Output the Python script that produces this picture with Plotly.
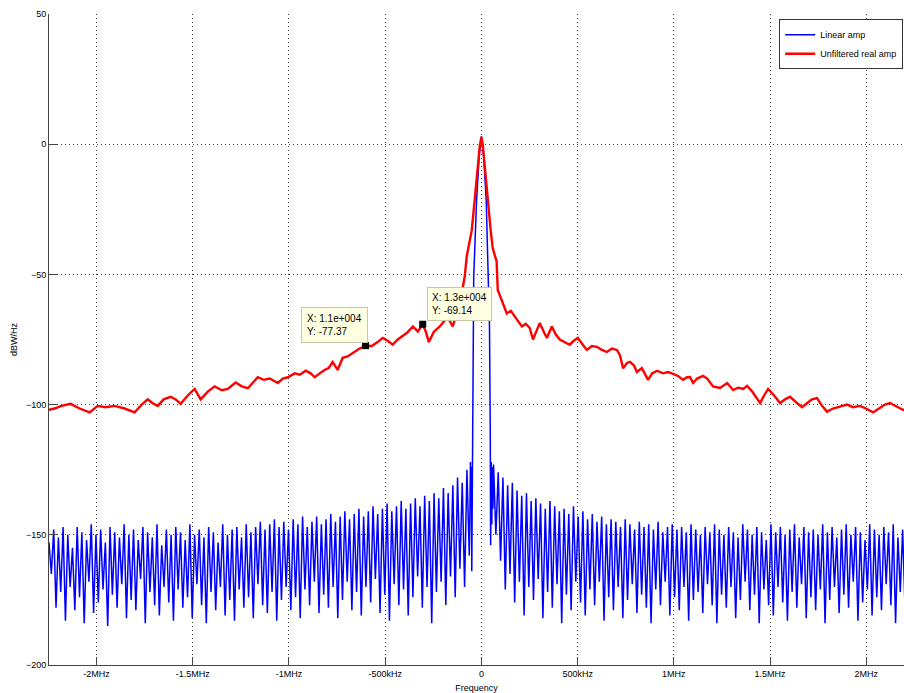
import numpy as np
import plotly.graph_objects as go

# ---------------- data ----------------
# Red trace: "Unfiltered real amp" (frequency in MHz, level in dBW/Hz)
red_freq_mhz = [
    -2.250, -2.218, -2.182, -2.135, -2.088, -2.036, -1.994, -1.953, -1.906, -1.854,
    -1.802, -1.765, -1.734, -1.708, -1.682, -1.651, -1.615, -1.589, -1.563, -1.526,
    -1.490, -1.459, -1.422, -1.386, -1.349, -1.318, -1.277, -1.245, -1.214, -1.183,
    -1.162, -1.131, -1.100, -1.058, -1.032, -1.006, -0.970, -0.944, -0.913, -0.887,
    -0.866, -0.840, -0.815, -0.794, -0.773, -0.747, -0.721, -0.695, -0.664, -0.633,
    -0.602, -0.570, -0.539, -0.513, -0.487, -0.461, -0.435, -0.414, -0.388, -0.356,
    -0.330, -0.305, -0.289, -0.273, -0.247, -0.216, -0.180, -0.164, -0.149, -0.128,
    -0.113, -0.097, -0.087, -0.076, -0.061, -0.050, -0.035, -0.019, -0.009, 0.000,
    0.007, 0.017, 0.033, 0.048, 0.059, 0.069, 0.079, 0.085, 0.106, 0.132,
    0.153, 0.173, 0.194, 0.210, 0.231, 0.251, 0.268, 0.289, 0.303, 0.324,
    0.340, 0.366, 0.386, 0.407, 0.433, 0.459, 0.480, 0.501, 0.527, 0.548,
    0.574, 0.600, 0.626, 0.652, 0.678, 0.704, 0.720, 0.736, 0.757, 0.772,
    0.793, 0.808, 0.834, 0.866, 0.887, 0.913, 0.944, 0.970, 0.996, 1.022,
    1.048, 1.068, 1.084, 1.100, 1.121, 1.136, 1.152, 1.173, 1.204, 1.240,
    1.277, 1.308, 1.334, 1.360, 1.381, 1.407, 1.428, 1.448, 1.469, 1.490,
    1.521, 1.552, 1.578, 1.604, 1.640, 1.666, 1.692, 1.718, 1.744, 1.770,
    1.796, 1.827, 1.863, 1.900, 1.931, 1.967, 1.998, 2.035, 2.066, 2.097,
    2.123, 2.154, 2.190, 2.250,
]
red_db = [
    -102.0, -101.5, -100.5, -99.7, -101.5, -103.0, -100.5, -101.0, -100.5, -101.5,
    -103.0, -100.0, -98.0, -99.5, -100.5, -98.0, -97.0, -98.0, -99.7, -96.5,
    -94.0, -98.0, -95.0, -93.0, -94.5, -94.0, -91.5, -93.0, -93.7, -91.0,
    -89.5, -90.5, -90.0, -91.7, -90.0, -89.5, -88.0, -88.5, -87.0, -88.0,
    -89.5, -88.0, -86.7, -86.0, -83.6, -86.7, -82.0, -81.5, -80.0, -78.5,
    -77.4, -77.5, -76.0, -74.4, -75.5, -77.0, -75.0, -74.0, -72.5, -70.0,
    -72.0, -69.1, -72.0, -76.0, -72.0, -70.0, -66.7, -68.0, -70.0, -65.0,
    -61.0, -55.0, -51.0, -43.0, -37.0, -33.0, -21.5, -8.0, -1.0, 2.8,
    0.0, -8.0, -21.5, -33.0, -40.0, -43.0, -45.0, -56.0, -60.0, -65.0,
    -64.0, -66.0, -68.0, -70.0, -69.0, -70.6, -75.0, -71.0, -68.7, -72.0,
    -74.4, -70.0, -73.0, -75.0, -76.0, -77.0, -75.5, -74.4, -77.0, -79.0,
    -77.5, -77.8, -79.0, -79.8, -78.5, -79.0, -81.0, -86.0, -84.0, -83.6,
    -85.0, -87.5, -86.0, -90.5, -88.0, -87.0, -88.0, -87.5, -88.2, -89.0,
    -90.5, -89.5, -89.4, -91.7, -90.0, -89.4, -89.0, -90.0, -93.0, -93.6,
    -91.7, -94.4, -93.5, -94.0, -92.8, -95.0, -97.5, -99.4, -96.5, -94.0,
    -96.5, -99.4, -98.0, -97.0, -99.4, -101.0, -99.5, -98.0, -97.5, -100.5,
    -102.7, -101.5, -100.8, -100.0, -101.0, -100.5, -101.5, -103.0, -101.5, -100.0,
    -99.4, -100.5, -102.0, -101.5,
]

# Blue trace: "Linear amp"
# left skirt, from the left edge towards the centre (alternating peak / dip)
blue_left_db = [
    -153, -165, -148, -178, -151, -172, -147, -183, -150, -170,
    -155, -179, -147, -174, -149, -184, -152, -168, -146, -180,
    -150, -176, -148, -171, -153, -185, -147, -173, -149, -178,
    -151, -169, -146, -182, -150, -175, -148, -179, -152, -167,
    -147, -184, -149, -172, -151, -177, -146, -181, -154, -170,
    -148, -176, -150, -183, -147, -171, -149, -178, -152, -174,
    -146, -182, -150, -169, -148, -177, -151, -184, -147, -172,
    -149, -179, -153, -170, -146, -181, -150, -175, -148, -183,
    -147, -171, -151, -178, -146, -174, -149, -182, -147, -169,
    -145, -177, -148, -180, -146, -172, -144, -183, -147, -175,
    -145, -170, -148, -179, -144, -174, -146, -182, -143, -171,
    -147, -177, -145, -168, -143, -180, -146, -173, -144, -178,
    -142, -170, -145, -182, -143, -175, -141, -168, -144, -179,
    -142, -172, -140, -181, -143, -170, -141, -176, -139, -167,
    -142, -180, -140, -173, -138, -183, -141, -169, -139, -177,
    -137, -171, -140, -181, -138, -174, -136, -166, -139, -178,
    -135, -170, -137, -184, -134, -172, -136, -168, -132, -177,
    -134, -166, -131, -174, -128, -163, -130, -170, -125, -158,
]
# central lobe
blue_center_freq_mhz = [
    -0.060, -0.057, -0.055, -0.052, -0.050, -0.047, -0.044, -0.040, -0.025, -0.012,
    0.000, 0.012, 0.025, 0.036, 0.042, 0.046, 0.048, 0.051, 0.054, 0.057, 0.060,
]
blue_center_db = [
    -144, -122, -140, -124, -164, -117, -70, -51, -21.5, -5,
    3, -5, -21.5, -51, -70, -110, -154, -122, -146, -124, -140,
]
# right skirt, from the centre towards the right edge
blue_right_db = [
    -123, -150, -126, -160, -128, -171, -131, -165, -130, -176,
    -133, -168, -135, -181, -134, -170, -137, -175, -136, -167,
    -138, -182, -140, -172, -137, -178, -139, -169, -141, -184,
    -140, -173, -142, -179, -139, -168, -143, -176, -141, -181,
    -144, -171, -142, -177, -145, -168, -143, -183, -146, -174,
    -144, -179, -145, -170, -147, -182, -144, -175, -146, -169,
    -148, -180, -145, -173, -147, -178, -146, -184, -148, -171,
    -145, -177, -149, -168, -147, -181, -146, -174, -148, -179,
    -147, -170, -149, -183, -146, -175, -148, -172, -150, -180,
    -147, -169, -149, -177, -146, -184, -148, -173, -150, -178,
    -147, -170, -149, -182, -151, -175, -146, -168, -148, -179,
    -150, -173, -147, -184, -149, -171, -152, -177, -146, -181,
    -149, -170, -147, -176, -150, -183, -148, -172, -146, -178,
    -151, -169, -147, -182, -149, -174, -148, -179, -150, -171,
    -146, -184, -149, -175, -147, -170, -151, -180, -148, -173,
    -146, -178, -150, -168, -147, -183, -149, -176, -152, -171,
    -146, -181, -148, -174, -150, -179, -147, -169, -149, -177,
    -146, -184, -151, -172, -148, -178, -150, -170, -147, -176,
]

# data tips
tip_freq_mhz = [-0.602, -0.305]
tip_db = [-77.37, -69.14]
tip_text = ["X: 1.1e+004<br>Y: -77.37", "X: 1.3e+004<br>Y: -69.14"]

tick_vals_mhz = [-2, -1.5, -1, -0.5, 0, 0.5, 1, 1.5, 2]
tick_text = ["-2MHz", "-1.5MHz", "-1MHz", "-500kHz", "0", "500kHz", "1MHz", "1.5MHz", "2MHz"]
y_ticks = [-200, -150, -100, -50, 0, 50]

# frequency grids for the skirts
blue_left_freq = np.linspace(-2.247, -0.063, len(blue_left_db))
blue_right_freq = np.linspace(0.063, 2.25, len(blue_right_db))
blue_freq = list(blue_left_freq) + blue_center_freq_mhz + list(blue_right_freq)
blue_db = blue_left_db + blue_center_db + blue_right_db

FONT = "Arial, Liberation Sans, sans-serif"

# ---------------- figure ----------------
fig = go.Figure()
fig.add_trace(go.Scatter(x=blue_freq, y=blue_db, mode="lines", name="Linear amp",
                         line=dict(color="#0000FF", width=1.5)))
fig.add_trace(go.Scatter(x=red_freq_mhz, y=red_db, mode="lines", name="Unfiltered real amp",
                         line=dict(color="#FF0000", width=2.4)))
fig.add_trace(go.Scatter(x=tip_freq_mhz, y=tip_db, mode="markers", showlegend=False,
                         marker=dict(symbol="square", size=7, color="black",
                                     line=dict(color="black", width=0))))

grid = dict(showgrid=True, gridcolor="rgba(0,0,0,0.75)", griddash="1px,3px", gridwidth=1,
            zeroline=False, showline=True, linecolor="#444", linewidth=1,
            ticks="inside", ticklen=8, tickcolor="#444",
            tickfont=dict(family=FONT, size=9, color="black"))

fig.update_xaxes(range=[-2.247, 2.196], tickvals=tick_vals_mhz, ticktext=tick_text,
                 title=dict(text="Frequency", standoff=6, font=dict(family=FONT, size=9)),
                 **grid)
fig.update_yaxes(range=[-200, 50], tickvals=y_ticks,
                 title=dict(text="dBW/Hz", standoff=6, font=dict(family=FONT, size=9)),
                 **grid)

annos = []
annos.append(dict(x=tip_freq_mhz[0], y=tip_db[0], xref="x", yref="y", text=tip_text[0],
                  showarrow=False, xanchor="right", yanchor="bottom", xshift=2, yshift=3,
                  align="left", bgcolor="#FFFFE1", bordercolor="#C8C8A8", borderwidth=1,
                  borderpad=5, font=dict(family=FONT, size=10)))
annos.append(dict(x=tip_freq_mhz[1], y=tip_db[1], xref="x", yref="y", text=tip_text[1],
                  showarrow=False, xanchor="left", yanchor="bottom", xshift=4, yshift=3,
                  align="left", bgcolor="#FFFFE1", bordercolor="#C8C8A8", borderwidth=1,
                  borderpad=4, font=dict(family=FONT, size=10)))

fig.update_layout(
    width=904, height=693,
    margin=dict(l=49, r=0, t=14, b=28),
    plot_bgcolor="white", paper_bgcolor="white",
    font=dict(family=FONT, size=9, color="black"),
    legend=dict(x=0.854, xanchor="left", y=0.992, yanchor="top", bgcolor="white",
                bordercolor="#333", borderwidth=1, tracegroupgap=0,
                font=dict(family=FONT, size=9)),
    annotations=annos,
)

fig.write_html("out.html",
               config={"displayModeBar": False},
               post_script="document.body.style.margin='0px';"
                           "document.body.style.padding='0px';"
                           "document.documentElement.style.overflow='hidden';")
